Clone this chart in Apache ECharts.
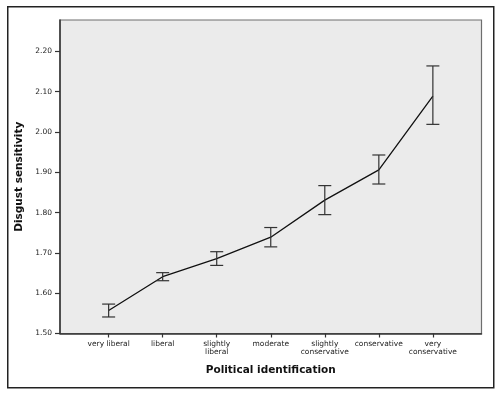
<!DOCTYPE html>
<html><head><meta charset="utf-8">
<script src="https://cdn.jsdelivr.net/npm/echarts@6/dist/echarts.min.js"></script>
<style>html,body{margin:0;padding:0;background:#fff;}#c{width:500px;height:393px;}</style>
</head><body><div id="c"></div>
<script>
var categories = ['very liberal', 'liberal', 'slightly\nliberal', 'moderate', 'slightly\nconservative', 'conservative', 'very\nconservative'];
var means = [1.557, 1.641, 1.686, 1.739, 1.831, 1.906, 2.089];
var upper = [1.573, 1.651, 1.703, 1.763, 1.867, 1.943, 2.164];
var lower = [1.541, 1.631, 1.669, 1.715, 1.795, 1.871, 2.019];
var yTicks = [1.5, 1.6, 1.7, 1.8, 1.9, 2.0, 2.1, 2.2];

var idx = categories.map(function (_, i) { return i; });
var lineData = means.map(function (v, i) { return [i, v]; });
var errData = means.map(function (v, i) { return [i, lower[i], upper[i]]; });

var chart = echarts.init(document.getElementById('c'));
var font = 'DejaVu Sans';
chart.setOption({
  animation: false,
  backgroundColor: '#fff',
  graphic: [{
    type: 'rect', left: 7, top: 6, z: -10,
    shape: { width: 486, height: 381 },
    style: { fill: '#fff', stroke: '#222', lineWidth: 1.5 }
  }],
  grid: {
    left: 60, top: 20, right: 18.5, bottom: 59.5,
    show: true, backgroundColor: '#ebebeb', borderColor: '#6e6e6e', borderWidth: 1.2
  },
  xAxis: {
    type: 'value', min: -0.9, max: 6.9,
    name: 'Political identification', nameLocation: 'middle', nameGap: 31,
    nameTextStyle: { fontFamily: font, fontWeight: 'bold', fontSize: 10.5, color: '#111' },
    axisLine: { show: true, onZero: false, lineStyle: { color: '#333', width: 1.5 } },
    axisTick: { show: true, customValues: idx, length: 4, lineStyle: { color: '#333', width: 1.2 } },
    axisLabel: {
      customValues: idx, margin: 7, fontFamily: font, fontSize: 7.5, color: '#222', lineHeight: 8,
      formatter: function (v) { return categories[Math.round(v)]; }
    },
    splitLine: { show: false }
  },
  yAxis: {
    type: 'value', min: 1.5, max: 2.278,
    name: 'Disgust sensitivity', nameLocation: 'middle', nameGap: 27,
    nameTextStyle: { fontFamily: font, fontWeight: 'bold', fontSize: 10.5, color: '#111' },
    axisLine: { show: true, onZero: false, lineStyle: { color: '#333', width: 1.5 } },
    axisTick: { show: true, customValues: yTicks, length: 5, lineStyle: { color: '#333', width: 1.2 } },
    axisLabel: {
      customValues: yTicks, margin: 8, fontFamily: font, fontSize: 7.5, color: '#222',
      formatter: function (v) { return v.toFixed(2); }
    },
    splitLine: { show: false }
  },
  series: [{
    type: 'line', data: lineData, symbol: 'none',
    lineStyle: { color: '#111', width: 1.3 }, z: 3
  }, {
    type: 'custom', data: errData, z: 4,
    renderItem: function (params, api) {
      var x = api.value(0);
      var lo = api.coord([x, api.value(1)]);
      var hi = api.coord([x, api.value(2)]);
      var hw = 6.5;
      var st = { stroke: '#333', lineWidth: 1.2, fill: null };
      return { type: 'group', children: [
        { type: 'line', shape: { x1: lo[0], y1: lo[1], x2: hi[0], y2: hi[1] }, style: st },
        { type: 'line', shape: { x1: lo[0] - hw, y1: lo[1], x2: lo[0] + hw, y2: lo[1] }, style: st },
        { type: 'line', shape: { x1: hi[0] - hw, y1: hi[1], x2: hi[0] + hw, y2: hi[1] }, style: st }
      ] };
    }
  }]
});
</script></body></html>
